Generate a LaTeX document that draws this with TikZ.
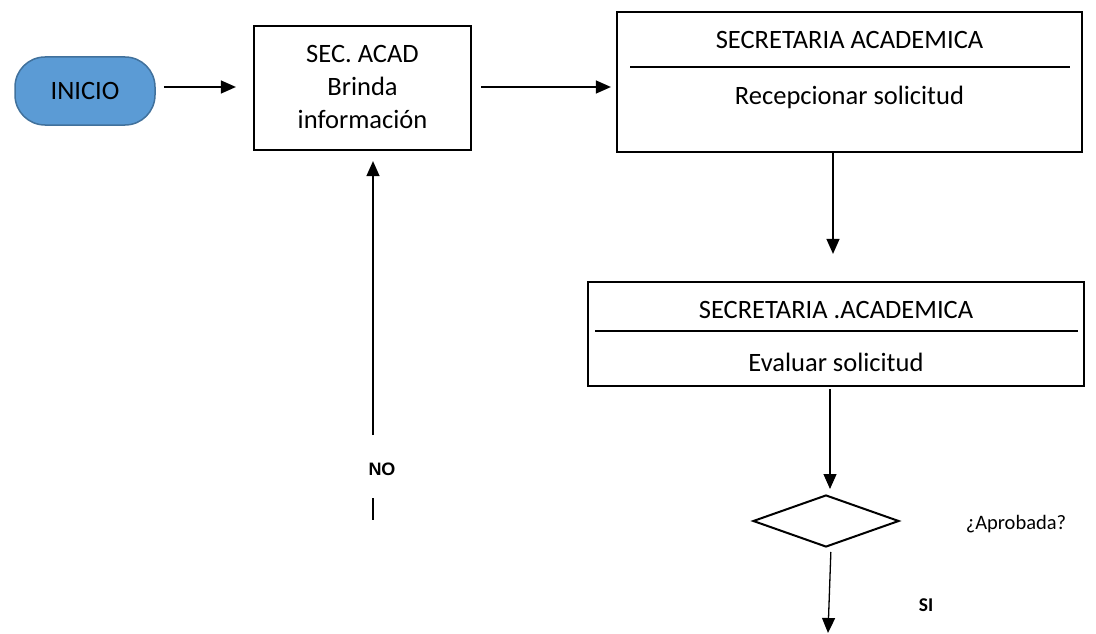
\documentclass[tikz,border=0pt]{standalone}
\usepackage{fontspec}
\setmainfont{Carlito}
\newfontfamily\arialf{Liberation Sans}
\usetikzlibrary{arrows.meta,shapes.geometric}
\begin{document}
\begin{tikzpicture}[x=1pt,y=-1pt,
  boxst/.style={draw=black,line width=2.2pt,inner sep=0pt},
  txt/.style={font=\fontsize{26.5}{33}\selectfont,inner sep=0pt,align=center},
  conn/.style={line width=1.3pt,-{Triangle[length=15pt,width=13pt]}},
  plain/.style={line width=1.3pt}]
\useasboundingbox (0,0) rectangle (1096,634);
% start
\node[draw={rgb,255:red,65;green,113;blue,156},line width=1.5pt,fill={rgb,255:red,91;green,155;blue,213},
  rounded corners=30pt,minimum width=140pt,minimum height=68pt,inner sep=0pt,
  font=\fontsize{26.5}{30}\selectfont] (ini) at (85,91) {INICIO};
% box 1
\node[boxst,minimum width=217pt,minimum height=124pt] (b1) at (362.5,88) {};
\node[txt] (b1t) at (362.5,87) {SEC. ACAD\\Brinda\\información};
% box 2
\node[boxst,minimum width=465pt,minimum height=140pt] (b2) at (849.5,82) {};
\coordinate (b2l) at (630,67);
\coordinate (b2r) at (1070,67);
\draw[line width=1.5pt] (b2l) -- (b2r);
\node[txt] (b2a) at (849.5,40) {SECRETARIA ACADEMICA};
\node[txt] (b2b) at (849.5,97) {Recepcionar solicitud};
% box 3
\node[boxst,minimum width=496pt,minimum height=104pt] (b3) at (836,334) {};
\coordinate (b3l) at (595,331);
\coordinate (b3r) at (1078,331);
\draw[line width=1.5pt] (b3l) -- (b3r);
\node[txt] (b3a) at (836,310) {SECRETARIA .ACADEMICA};
\node[txt] (b3b) at (836,362) {Evaluar solicitud};
% diamond
\node[draw=black,line width=2pt,shape=diamond,minimum width=146pt,minimum height=52pt,inner sep=0pt] (d) at (826,521) {};
\node[font=\fontsize{20.5}{24}\selectfont,inner sep=0pt] (q) at (1016,524) {¿Aprobada?};
% connectors
\draw[conn,shorten <=8pt,shorten >=17pt] (ini.east |- 0,87) coordinate (a1s) -- (b1.west |- a1s);
\draw[conn,shorten <=9pt,shorten >=5pt] (b1.east |- 0,87) coordinate (a2s) -- (b2.west |- a2s);
\draw[conn,shorten >=27pt] (b2.south -| 833,0) coordinate (a3s) -- (b3.north -| a3s);
\draw[conn,shorten <=2pt,shorten >=5pt] (b3.south -| 830,0) coordinate (a4s) -- (d.north -| a4s);
\coordinate (send) at (828,633);
\draw[conn,shorten <=4pt] (d.south -| 831,0) -- (send);
\node[font=\fontsize{19.5}{22}\selectfont\bfseries,inner sep=0pt] (si) at (926,605) {SI};
% NO branch
\coordinate (nos) at (373,435);
\draw[conn,shorten >=10pt] (nos) -- (b1.south -| nos);
\node[font=\arialf\fontsize{18}{20}\selectfont\bfseries,inner sep=0pt] (no) at (382,469) {NO};
\coordinate (nl1) at (373,498);
\coordinate (nl2) at (373,520);
\draw[plain] (nl1) -- (nl2);
\end{tikzpicture}
\end{document}
